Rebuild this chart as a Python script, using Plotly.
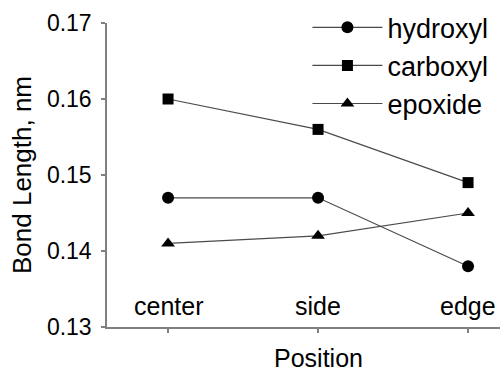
import plotly.graph_objects as go

positions = ["center", "side", "edge"]
hydroxyl = [0.147, 0.147, 0.138]
carboxyl = [0.160, 0.156, 0.149]
epoxide = [0.141, 0.142, 0.145]
y_ticks = [0.13, 0.14, 0.15, 0.16, 0.17]
y_tick_text = ["0.13", "0.14", "0.15", "0.16", "0.17"]

FONT = "Liberation Sans, Arial, sans-serif"
LINE = "#4a4a4a"
AXIS = "#808080"

fig = go.Figure()
series = [("hydroxyl", hydroxyl, "circle", 12),
          ("carboxyl", carboxyl, "square", 11),
          ("epoxide", epoxide, "triangle-up", 12)]
for name, vals, sym, sz in series:
    fig.add_trace(go.Scatter(
        x=positions, y=vals, name=name, mode="lines+markers",
        line=dict(color=LINE, width=1.2),
        marker=dict(symbol=sym, size=sz, color="black"),
    ))

annotations = [dict(text=p, x=p, y=0.13, xref="x", yref="y", showarrow=False,
                    yshift=21, xanchor="center", yanchor="middle",
                    font=dict(size=25, family=FONT, color="black"))
               for p in positions]
annotations.append(dict(text="Position", x=0.537, y=-0.1546, xref="paper", yref="paper",
                        showarrow=False, font=dict(size=25, family=FONT, color="black"),
                        xanchor="center", yanchor="bottom"))

fig.update_layout(
    width=500, height=374,
    margin=dict(l=107, r=0, t=23, b=47),
    paper_bgcolor="white", plot_bgcolor="white",
    font=dict(family=FONT, color="black"),
    showlegend=True,
    legend=dict(x=0.51, y=1.065, xanchor="left", yanchor="top",
                font=dict(size=27, family=FONT), bgcolor="rgba(0,0,0,0)",
                tracegroupgap=0, itemwidth=70),
    annotations=annotations,
)
fig.update_xaxes(
    type="category", range=[-0.407, 2.213],
    showline=True, linecolor=AXIS, linewidth=1.5,
    ticks="outside", ticklen=4, tickcolor=AXIS, tickwidth=1.5,
    showticklabels=False,
    showgrid=False, zeroline=False,
)
fig.update_yaxes(
    range=[0.13, 0.17], tickvals=y_ticks, ticktext=y_tick_text,
    showline=True, linecolor=AXIS, linewidth=1.5,
    ticks="outside", ticklen=4, tickcolor=AXIS, tickwidth=1.5,
    tickfont=dict(size=23, family=FONT), ticklabelstandoff=5,
    showgrid=False, zeroline=False,
    title=dict(text="Bond Length, nm", font=dict(size=26, family=FONT), standoff=8),
)

fig.write_html("out.html")
